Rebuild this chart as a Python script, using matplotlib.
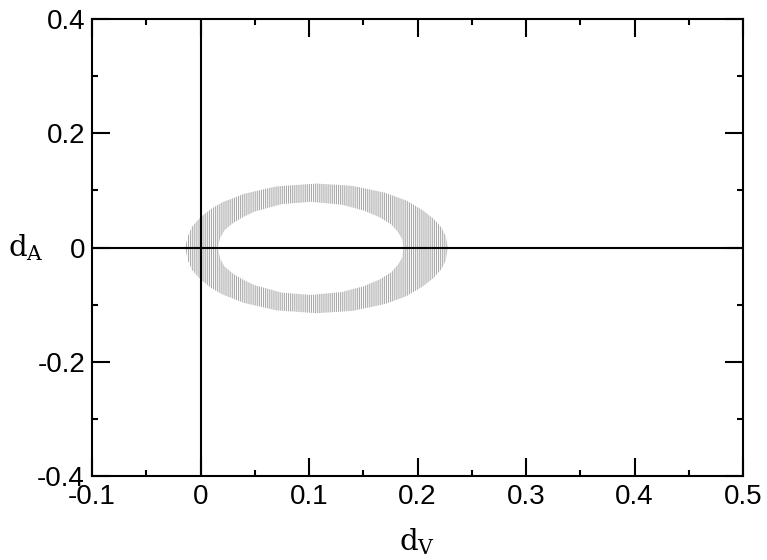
import matplotlib
matplotlib.use("Agg")
import matplotlib.pyplot as plt
from matplotlib.ticker import MultipleLocator

# allowed region (ring): boundary points of outer and inner contour
outer_x = [-0.014, -0.012, -0.008, 0.000, 0.010, 0.020, 0.040, 0.070, 0.107,
           0.140, 0.170, 0.190, 0.205, 0.215, 0.222, 0.226, 0.228]
outer_up = [0.000, 0.018, 0.036, 0.053, 0.068, 0.079, 0.094, 0.107, 0.112,
            0.108, 0.096, 0.082, 0.065, 0.050, 0.035, 0.020, 0.000]
outer_lo = [0.000, -0.021, -0.039, -0.056, -0.071, -0.082, -0.097, -0.110, -0.115,
            -0.111, -0.099, -0.085, -0.068, -0.053, -0.038, -0.023, 0.000]

inner_x = [0.016, 0.018, 0.022, 0.030, 0.040, 0.050, 0.075, 0.1015,
           0.130, 0.150, 0.165, 0.176, 0.182, 0.186, 0.187]
inner_up = [0.000, 0.016, 0.030, 0.043, 0.054, 0.063, 0.076, 0.080,
            0.075, 0.065, 0.053, 0.040, 0.027, 0.014, 0.000]
inner_lo = [0.000, -0.019, -0.033, -0.046, -0.057, -0.066, -0.079, -0.083,
            -0.078, -0.068, -0.056, -0.043, -0.030, -0.017, 0.000]

xticks = [-0.1, 0.0, 0.1, 0.2, 0.3, 0.4, 0.5]
xticklabels = ["-0.1", "0", "0.1", "0.2", "0.3", "0.4", "0.5"]
yticks = [-0.4, -0.2, 0.0, 0.2, 0.4]
yticklabels = ["-0.4", "-0.2", "0", "0.2", "0.4"]

plt.rcParams["font.family"] = ["Liberation Sans", "DejaVu Sans"]
plt.rcParams["hatch.linewidth"] = 0.8

fig = plt.figure(figsize=(7.67, 5.60), dpi=100)
ax = fig.add_axes([0.12, 0.15, 0.8487, 0.816])

# ring: hatched outer shape, inner hole blanked out
ax.fill(outer_x + outer_x[::-1], outer_up + outer_lo[::-1],
        facecolor="none", edgecolor="#aaaaaa", hatch="||||||||", lw=0, zorder=1)
ax.fill(inner_x + inner_x[::-1], inner_up + inner_lo[::-1],
        facecolor="white", edgecolor="none", lw=0, zorder=2)

ax.axhline(0, color="black", lw=1.5, zorder=3)
ax.axvline(0, color="black", lw=1.5, zorder=3)

ax.set_xlim(-0.1, 0.5)
ax.set_ylim(-0.4, 0.4)
ax.set_xticks(xticks)
ax.set_xticklabels(xticklabels)
ax.set_yticks(yticks)
ax.set_yticklabels(yticklabels)
ax.xaxis.set_minor_locator(MultipleLocator(0.05))
ax.yaxis.set_minor_locator(MultipleLocator(0.1))
ax.tick_params(which="both", direction="in", top=True, right=True, width=1.5,
               labelsize=20)
ax.tick_params(axis="y", pad=5)
ax.tick_params(axis="x", pad=6)
ax.tick_params(which="major", length=13)
ax.tick_params(which="minor", length=4.5)
for sp in ax.spines.values():
    sp.set_linewidth(1.5)

ax.set_xlabel(r"$\mathregular{d_V}$", fontsize=21, family="DejaVu Serif", va="center")
ax.set_ylabel(r"$\mathregular{d_A}$", fontsize=21, family="DejaVu Serif",
              rotation=0, va="center", ha="center")
ax.xaxis.set_label_coords(0.5, -0.143)
ax.yaxis.set_label_coords(-0.101, 0.5)

fig.savefig("out.png", dpi=100)
